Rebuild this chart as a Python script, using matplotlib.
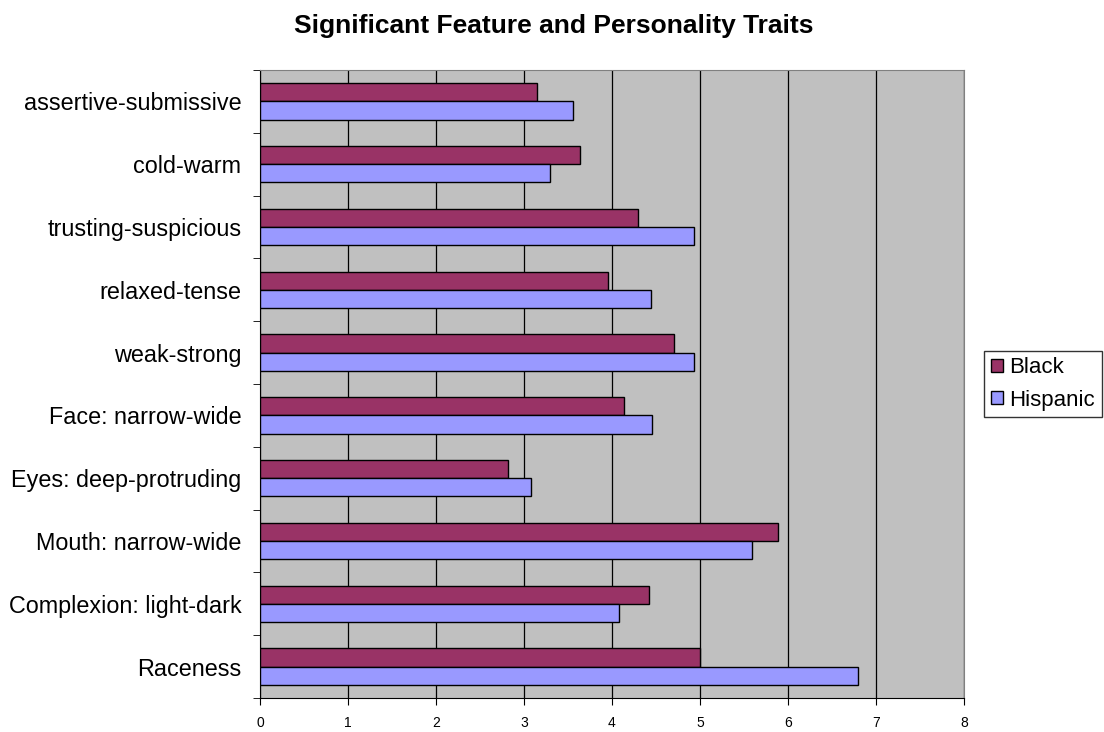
import numpy as np
import matplotlib.pyplot as plt
from matplotlib.patches import Patch

# categories from bottom to top
categories = ["Raceness", "Complexion: light-dark", "Mouth: narrow-wide",
              "Eyes: deep-protruding", "Face: narrow-wide", "weak-strong",
              "relaxed-tense", "trusting-suspicious", "cold-warm",
              "assertive-submissive"]
black = [5.00, 4.42, 5.89, 2.82, 4.14, 4.70, 3.96, 4.29, 3.64, 3.15]
hispanic = [6.80, 4.08, 5.59, 3.08, 4.46, 4.93, 4.44, 4.93, 3.30, 3.56]
x_ticks = [0, 1, 2, 3, 4, 5, 6, 7, 8]

plt.rcParams['font.family'] = ['Liberation Sans', 'DejaVu Sans']

fig = plt.figure(figsize=(11.04, 7.32), dpi=100)
ax = fig.add_axes([260 / 1104, 1 - 698 / 732, 704 / 1104, 628 / 732])

y = np.arange(len(categories))
h = 0.29
ax.barh(y + h / 2, black, height=h, color="#993366", edgecolor="black",
        linewidth=1, zorder=3, label="Black")
ax.barh(y - h / 2, hispanic, height=h, color="#9999FF", edgecolor="black",
        linewidth=1, zorder=3, label="Hispanic")

ax.set_facecolor("#C0C0C0")
ax.set_xlim(0, 8)
ax.set_ylim(-0.5, len(categories) - 0.5)
ax.set_xticks(x_ticks)
ax.set_xticklabels([str(t) for t in x_ticks], fontsize=10)
ax.xaxis.grid(True, color="black", linewidth=0.9, zorder=1)
ax.set_axisbelow(True)

ax.set_yticks(y)
ax.set_yticklabels(categories, fontsize=16.8)
ax.set_yticks(np.arange(-0.5, len(categories)), minor=True)
ax.tick_params(axis="y", which="major", length=0, pad=13.5)
ax.tick_params(axis="y", which="minor", length=5, color="black", direction="out")
ax.tick_params(axis="x", length=5, direction="out", pad=8)

for s in ["top", "right"]:
    ax.spines[s].set_color("#808080")
for s in ["left", "bottom"]:
    ax.spines[s].set_color("black")

fig.text(554 / 1104, 1 - 33 / 732, "Significant Feature and Personality Traits",
         ha="center", va="baseline", fontsize=19, fontweight="bold")

handles = [Patch(facecolor="#993366", edgecolor="black", label="Black"),
           Patch(facecolor="#9999FF", edgecolor="black", label="Hispanic")]
leg = fig.legend(handles=handles, loc="center left",
                 bbox_to_anchor=(984 / 1104, 1 - 384 / 732),
                 fontsize=16, frameon=True, fancybox=False,
                 handlelength=0.55, handleheight=0.55, handletextpad=0.3,
                 borderpad=0.3, labelspacing=0.5, borderaxespad=0)
leg.get_frame().set_edgecolor("black")
leg.get_frame().set_linewidth(1)

plt.savefig("out.png", dpi=100)
